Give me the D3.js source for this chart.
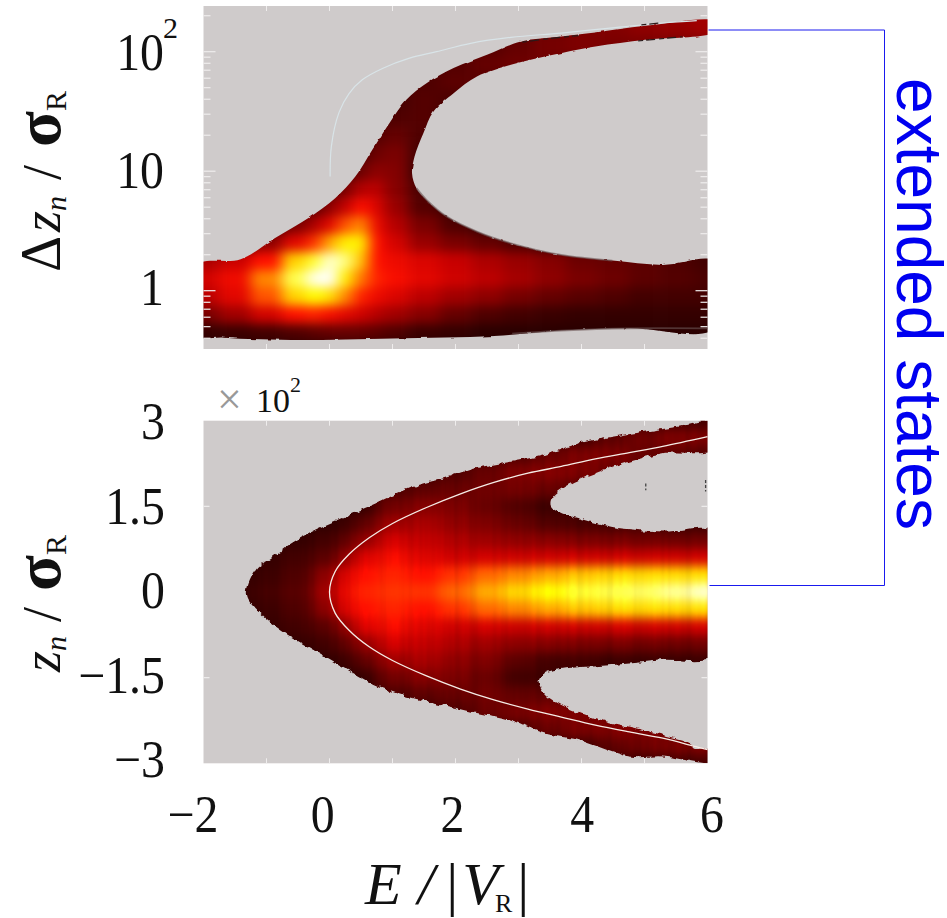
<!DOCTYPE html>
<html><head><meta charset="utf-8">
<script src="https://cdn.jsdelivr.net/npm/d3@7"></script>
<style>html,body{margin:0;background:#fff}svg{display:block}text{font-family:"Liberation Serif",serif;fill:#111}</style>
</head><body><svg id="c" width="947" height="918"></svg>
<script>
const widthColumns=[-2,-1.5,-1,-.5,-.25,0,.25,.5,.75,1,1.5,2,2.5,3,3.5,4,4.5,5,5.5,6];
const widthRows=[2.35,2.2,2.05,1.9,1.75,1.6,1.45,1.3,1.15,1,.85,.7,.55,.4,.25,.1,-.05,-.2,-.35,-.5];
const widthDensity=[
[.1,.1,.1,.1,.1,.1,.1,.1,.1,.1,.1,.1,.12,.15,.2,.24,.27,.3,.33,.36],
[.1,.1,.1,.1,.1,.1,.1,.1,.1,.1,.1,.1,.12,.17,.22,.25,.27,.3,.32,.35],
[.1,.1,.1,.1,.1,.1,.1,.1,.1,.1,.1,.12,.16,.2,.24,.26,.25,.25,.25,.25],
[.1,.1,.1,.1,.1,.1,.1,.1,.1,.1,.12,.16,.2,.22,.22,.2,.18,.18,.18,.18],
[.1,.1,.1,.1,.1,.1,.1,.1,.1,.1,.15,.18,.17,.15,.12,.12,.12,.12,.12,.12],
[.1,.1,.1,.1,.1,.1,.1,.1,.1,.12,.16,.14,.1,.1,.1,.1,.1,.1,.1,.1],
[.1,.1,.1,.1,.1,.1,.1,.08,.1,.15,.16,.1,.1,.1,.1,.1,.1,.1,.1,.1],
[.1,.1,.1,.1,.1,.1,.1,.1,.16,.2,.15,.1,.1,.1,.1,.1,.1,.1,.1,.1],
[.1,.1,.1,.1,.1,.1,.1,.14,.22,.25,.12,.1,.1,.1,.1,.1,.1,.1,.1,.1],
[.1,.1,.1,.1,.08,.08,.12,.22,.3,.27,.1,.1,.1,.1,.1,.1,.1,.1,.1,.1],
[.1,.1,.1,.08,.1,.15,.25,.4,.42,.28,.14,.1,.1,.1,.1,.1,.1,.1,.1,.1],
[.1,.1,.1,.08,.18,.3,.44,.6,.5,.33,.16,.1,.1,.1,.1,.1,.1,.1,.1,.1],
[.1,.1,.1,.25,.38,.52,.68,.74,.55,.4,.25,.15,.1,.1,.1,.1,.1,.1,.1,.1],
[.1,.12,.3,.52,.64,.78,.88,.88,.6,.48,.33,.25,.2,.15,.1,.1,.1,.1,.1,.1],
[.38,.46,.6,.84,.92,.98,.95,.82,.6,.55,.5,.45,.38,.33,.28,.22,.2,.18,.15,.12],
[.48,.56,.74,.93,.99,1,.88,.72,.62,.58,.52,.47,.42,.36,.3,.25,.22,.18,.16,.14],
[.42,.52,.68,.84,.9,.86,.74,.62,.55,.5,.42,.35,.3,.24,.2,.17,.15,.12,.12,.12],
[.25,.35,.48,.6,.62,.58,.52,.47,.4,.35,.28,.2,.15,.12,.1,.08,.08,.08,.08,.08],
[.08,.1,.12,.15,.18,.2,.2,.2,.18,.15,.1,.08,.05,.05,.05,.05,.05,.05,.05,.05],
[.05,.05,.05,.05,.05,.05,.05,.05,.05,.05,.05,.05,.05,.05,.05,.05,.05,.05,.05,.05]];
const widthOutline=[[-2,.207],[-1.41,.263],[-.87,.439],[-.34,.606],[.09,.774],[.41,.955],[.68,1.179],[.95,1.402],[1.22,1.598],[1.54,1.737],[1.97,1.863],[2.5,1.974],[3.04,2.086],[3.68,2.128],[4.22,2.161],[5.02,2.217],[6,2.254],
[6,2.17],[5.02,2.1],[4.22,2.044],[3.42,1.96],[2.88,1.891],[2.34,1.793],[1.97,1.653],[1.65,1.5],[1.49,1.318],[1.35,1.123],[1.31,.983],[1.38,.858],[1.54,.76],[1.86,.62],[2.34,.495],[2.88,.397],[3.68,.299],[4.49,.252],[5.29,.216],[6,.243],
[6,-.315],[4.76,-.315],[3.68,-.334],[2.61,-.379],[1,-.399],[-.61,-.413],[-1.68,-.393],[-2,-.371]];
const widthCurve=[[.01,.955],[.03,1.21],[.15,1.49],[.31,1.65],[.52,1.765],[.84,1.86],[1.27,1.946],[1.7,2],[2.24,2.07],[2.88,2.12],[3.68,2.156],[4.49,2.2],[5.29,2.24],[5.83,2.26]];
const widthHaloLower=[[1.38,.858],[1.54,.76],[1.86,.62],[2.34,.495],[2.88,.397],[3.68,.299],[4.49,.252]];
const widthHaloBottom=[[6,-.315],[4.76,-.315],[3.68,-.334],[2.9,-.36]];
const widthSpecks=[[[3.06,2.08],[3.5,2.11],[3.95,2.135]],[[4.95,2.225],[5.25,2.24]],[[4.9,2.09],[5.6,2.125]]];
const positionColumns=[-2,-1.5,-1,-.5,0,.25,.5,1,1.5,2,2.5,3,3.5,4,4.5,5,5.5,6];
const positionRows=[3,2.7,2.4,2.1,1.8,1.5,1.2,.9,.6,.3,0,-.3,-.6,-.9,-1.2,-1.5,-1.8,-2.1,-2.4,-2.7,-3];
const positionDensity=[
[.05,.05,.05,.05,.05,.05,.05,.05,.05,.05,.05,.05,.05,.08,.1,.1,.12,.12],
[.05,.05,.05,.05,.05,.05,.05,.05,.05,.05,.08,.08,.1,.12,.18,.22,.25,.25],
[.05,.05,.05,.05,.05,.05,.05,.05,.05,.08,.12,.15,.2,.25,.25,.2,.18,.15],
[.05,.05,.05,.05,.05,.05,.05,.05,.1,.15,.2,.25,.27,.25,.2,.18,.15,.15],
[.05,.05,.05,.05,.05,.05,.06,.14,.18,.2,.22,.23,.2,.15,.15,.15,.15,.15],
[.05,.05,.05,.05,.05,.05,.08,.22,.27,.25,.2,.15,.1,.1,.1,.1,.1,.1],
[.05,.05,.05,.05,.07,.1,.18,.33,.36,.3,.25,.2,.15,.13,.12,.12,.1,.1],
[.05,.05,.05,.08,.12,.18,.3,.46,.43,.38,.33,.3,.28,.25,.24,.23,.22,.22],
[.05,.05,.08,.12,.18,.3,.48,.56,.5,.46,.46,.46,.46,.46,.46,.46,.46,.46],
[.05,.06,.1,.15,.3,.48,.58,.62,.6,.64,.7,.74,.78,.82,.84,.85,.85,.85],
[.05,.07,.12,.17,.36,.52,.62,.64,.64,.7,.78,.85,.9,.92,.93,.94,.96,.98],
[.05,.06,.1,.15,.3,.48,.58,.62,.6,.64,.7,.74,.78,.82,.84,.85,.85,.85],
[.05,.05,.08,.12,.18,.3,.48,.56,.5,.46,.46,.46,.46,.46,.46,.46,.46,.46],
[.05,.05,.05,.08,.12,.18,.3,.46,.43,.38,.33,.3,.27,.25,.24,.23,.22,.22],
[.05,.05,.05,.05,.07,.1,.18,.33,.36,.3,.25,.18,.12,.12,.1,.1,.1,.1],
[.05,.05,.05,.05,.05,.05,.08,.22,.27,.25,.2,.12,.1,.1,.1,.1,.1,.1],
[.05,.05,.05,.05,.05,.05,.06,.14,.18,.2,.22,.2,.18,.18,.18,.15,.15,.15],
[.05,.05,.05,.05,.05,.05,.05,.05,.1,.15,.2,.25,.26,.25,.22,.2,.18,.18],
[.05,.05,.05,.05,.05,.05,.05,.05,.05,.08,.12,.15,.2,.25,.26,.25,.22,.2],
[.05,.05,.05,.05,.05,.05,.05,.05,.05,.05,.08,.08,.1,.12,.18,.22,.25,.25],
[.05,.05,.05,.05,.05,.05,.05,.05,.05,.05,.05,.05,.05,.08,.1,.1,.12,.12]];
const positionOutline=[[-1.31,-.05],[-1.17,.385],[-.93,.59],[-.61,.85],[-.23,1.09],[.31,1.35],[.73,1.55],[1.27,1.82],[1.81,1.99],[2.34,2.17],[2.88,2.28],[3.42,2.4],[3.95,2.6],[4.49,2.72],[5.02,2.81],[5.56,2.9],[6,2.98],
[6,2.5],[5.29,2.43],[4.76,2.28],[4.22,2.08],[3.79,1.87],[3.55,1.67],[3.51,1.52],[3.63,1.41],[3.95,1.29],[4.49,1.14],[5.29,1.06],[6,1.04],
[6,-1.1],[5.29,-1.19],[4.49,-1.28],[3.68,-1.35],[3.42,-1.42],[3.32,-1.57],[3.39,-1.75],[3.63,-1.95],[4.22,-2.21],[4.76,-2.36],[5.29,-2.5],[5.72,-2.65],[5.78,-2.74],[6,-2.74],
[6,-2.97],[5.29,-2.88],[4.76,-2.88],[3.95,-2.59],[3.42,-2.48],[2.88,-2.24],[2.34,-2.12],[1.81,-1.98],[1.22,-1.83],[.73,-1.63],[.2,-1.31],[-.34,-.96],[-.77,-.67],[-1.09,-.37]];
const positionCurve=[[6,2.72],[5.29,2.55],[4.76,2.44],[4.22,2.33],[3.68,2.2],[3.15,2.08],[2.61,1.92],[2.08,1.72],[1.54,1.48],[1,1.2],[.63,.95],[.31,.66],[.09,.36],[0,0],[.09,-.37],[.31,-.67],[.63,-.96],[1,-1.2],[1.54,-1.47],[2.08,-1.7],[2.61,-1.89],[3.15,-2.05],[3.68,-2.19],[4.22,-2.33],[4.76,-2.45],[5.29,-2.56],[5.82,-2.71],[6,-2.76]];
const positionSpecks=[[[5.97,1.96],[5.97,1.76]],[[5.02,1.9],[5.02,1.78]]];
const xTickLabels=[-2,0,2,4,6];
const positionTickLabels=[3,1.5,0,-1.5,-3];

const svg=d3.select("#c");
const x=d3.scaleLinear().domain([-2,6]).range([203.5,707.5]);
const yW=d3.scaleLinear().domain([0,2]).range([290.7,51.7]);
const yP=d3.scaleLinear().domain([3,-3]).range([420.7,763.3]);
const color=d3.scaleLinear().domain([0,.1,.25,.45,.6,.75,.9,1]).range(["#1a0000","#3a0000","#7a0000","#c80000","#ff1000","#ff9000","#ffff00","#ffffff"]);
const GRAY="#cfcbcb", TICK="#efeded";
const defs=svg.append("defs");
const full=f=>f.attr("filterUnits","userSpaceOnUse").attr("x",0).attr("y",0).attr("width",947).attr("height",918).attr("color-interpolation-filters","sRGB");
full(defs.append("filter").attr("id","softW")).append("feGaussianBlur").attr("stdDeviation","7 5.5");
// the position panel also has the fine vertical streaks of the picture
const fs=full(defs.append("filter").attr("id","softP"));
fs.append("feGaussianBlur").attr("stdDeviation","7 5.5").attr("result","b");
fs.append("feTurbulence").attr("type","fractalNoise").attr("baseFrequency","0.13 0.002").attr("numOctaves",2).attr("seed",7);
fs.append("feColorMatrix").attr("values","1 0 0 0 0  1 0 0 0 0  1 0 0 0 0  0 0 0 0 1").attr("result","n");
fs.append("feComposite").attr("in","b").attr("in2","n").attr("operator","arithmetic").attr("k1",.2).attr("k2",.92).attr("k3",0).attr("k4",0);
function rough(id,scale,freq){
  const f=full(defs.append("filter").attr("id",id));
  f.append("feTurbulence").attr("type","fractalNoise").attr("baseFrequency",freq).attr("numOctaves",2).attr("seed",4).attr("result","n");
  f.append("feDisplacementMap").attr("in","SourceGraphic").attr("in2","n").attr("scale",scale).attr("xChannelSelector","R").attr("yChannelSelector","G");
}
rough("roughW",2.5,.12); rough("roughP",6,.14);

function panel(id,cols,y,rows,density,outline,top,bottom,roughId,softId){
  const edges=a=>a.map((v,i)=>[i?(a[i-1]+v)/2:v-(a[1]-a[0])/2, i<a.length-1?(a[i+1]+v)/2:v+(a[i]-a[i-1])/2]);
  const ce=edges(cols), re=edges(rows);
  svg.append("rect").attr("x",x(-2)).attr("y",top).attr("width",x(6)-x(-2)).attr("height",bottom-top).attr("fill",GRAY);
  // outline points on the panel's side edges run past them so the box cuts them straight
  const bleed=d=>d[0]>=6?x(6)+8:d[0]<=-2?x(-2)-8:x(d[0]);
  const outlinePath=d3.line().x(bleed).y(d=>y(d[1])).curve(d3.curveCatmullRomClosed.alpha(.5))(outline);
  defs.append("mask").attr("id",id).attr("maskUnits","userSpaceOnUse").attr("x",0).attr("y",0).attr("width",947).attr("height",918)
    .append("path").attr("d",outlinePath).attr("fill","#fff").attr("filter",`url(#${roughId})`);
  defs.append("clipPath").attr("id",id+"Box").append("rect").attr("x",x(-2)).attr("y",top).attr("width",x(6)-x(-2)).attr("height",bottom-top);
  const g=svg.append("g").attr("clip-path",`url(#${id}Box)`).append("g").attr("mask",`url(#${id})`).append("g").attr("filter",`url(#${softId})`);
  density.forEach((r,i)=>r.forEach((v,j)=>{
    const pad=40;
    const x0=x(ce[j][0])-(j==0?pad:0), x1=x(ce[j][1])+(j==r.length-1?pad:0);
    const y0=y(re[i][0])-(i==0?pad:0), y1=y(re[i][1])+(i==density.length-1?pad:0);
    g.append("rect").attr("x",x0).attr("y",y0).attr("width",x1-x0+.5).attr("height",y1-y0+.5).attr("fill",color(v));
  }));
  return d3.line().x(d=>x(d[0])).y(d=>y(d[1]));
}
const lineW=panel("clipW",widthColumns,yW,widthRows,widthDensity,widthOutline,6,349,"roughW","softW");
const lineP=panel("clipP",positionColumns,yP,positionRows,positionDensity,positionOutline,420.7,763.3,"roughP","softP");
const smooth=d3.curveCatmullRom;
[widthHaloLower,widthHaloBottom].forEach(h=>svg.append("path").attr("d",lineW.curve(smooth)(h)).attr("fill","none").attr("stroke","#6d5555").attr("stroke-width",1.8).attr("opacity",.6));
svg.append("path").attr("d",lineW.curve(smooth)(widthCurve)).attr("fill","none").attr("stroke","#d9e4e8").attr("stroke-width",1.2);
widthSpecks.forEach(s=>svg.append("path").attr("d",lineW.curve(smooth)(s)).attr("fill","none").attr("stroke","#2a1a1a").attr("stroke-width",1.2).attr("stroke-dasharray","5 3 9 4"));
svg.append("path").attr("d",lineP.curve(smooth)(positionCurve)).attr("fill","none").attr("stroke","#f6ece6").attr("stroke-width",1.3);
positionSpecks.forEach(s=>svg.append("path").attr("d",lineP.curve(d3.curveLinear)(s)).attr("fill","none").attr("stroke","#444").attr("stroke-width",1.3).attr("stroke-dasharray","3 2"));

// ticks
function ticksX(vals,y0,y1,len){vals.forEach(v=>{
  svg.append("line").attr("x1",x(v)).attr("x2",x(v)).attr("y1",y0).attr("y2",y0+len).attr("stroke",TICK);
  svg.append("line").attr("x1",x(v)).attr("x2",x(v)).attr("y1",y1).attr("y2",y1-len).attr("stroke",TICK);});}
ticksX(d3.range(-1,6),6,349,5);
ticksX(d3.range(-1,6),420.7,763.3,5);
function ticksY(y,v,len){[[x(-2),1],[x(6),-1]].forEach(([a,s])=>svg.append("line").attr("x1",a).attr("x2",a+s*len).attr("y1",y(v)).attr("y2",y(v)).attr("stroke",TICK).attr("stroke-width",1.2));}
[-1,0,1,2].forEach(d=>{ [1,2,3,4,5,6,7,8,9].forEach(m=>{const v=d+Math.log10(m); if(v>2.38||v<-.48)return; ticksY(yW,v,m==1?12:7);});});
[-1.5,1.5].forEach(v=>ticksY(yP,v,6));

// tick labels: slightly taller than wide, as in the picture
function label(t,px,py,anchor,size=52){
  return svg.append("text").attr("transform",`translate(${px},${py}) scale(.92,1)`).attr("text-anchor",anchor).attr("font-size",size).text(t);
}
const lblX=d3.scaleLinear().domain([-2,6]).range([193,712]);
const fmt=v=>String(v).replace("-","\u2212");
xTickLabels.forEach(v=>label(fmt(v),lblX(v),832,"middle"));
const lblP=d3.scaleLinear().domain([3,-3]).range([422,760]);
positionTickLabels.forEach(v=>label(fmt(v),165,lblP(v)+17,"end"));
const lblW=d3.scaleLinear().domain([0,2]).range([288,53]);
[["1",0],["10",1],["10",2]].forEach(([t,v])=>label(t,164,lblW(v)+17,"end"));
svg.append("text").attr("x",163).attr("y",38).attr("font-size",30).text("2");
svg.append("text").attr("x",217).attr("y",414).attr("font-size",44).style("fill","#999").text("\u00d7");
svg.append("text").attr("x",256).attr("y",412).attr("font-size",34).text("10");
svg.append("text").attr("x",290).attr("y",392).attr("font-size",22).text("2");

// axis titles
function rotated(cx,cy,parts){
  const t=svg.append("text").attr("transform",`translate(${cx},${cy}) rotate(-90)`);
  parts.forEach(p=>{const s=t.append("tspan").text(p.t).attr("font-size",p.s);
    if(p.i)s.attr("font-style","italic"); if(p.dy)s.attr("dy",p.dy); if(p.f)s.style("font-family",p.f); if(p.b)s.attr("font-weight","bold"); if(p.dx)s.attr("dx",p.dx);});
  return t;
}
const sigma='"Liberation Serif",serif';
rotated(60,272,[{t:"\u0394",s:56},{t:"z",s:54,i:1,dx:4},{t:"n",s:30,i:1,dy:6},{t:"/",s:54,dy:-6,dx:16},{t:"\u03c3",s:66,dx:18,f:sigma,b:1},{t:"R",s:30,dy:6,dx:0}]);
rotated(60,672,[{t:"z",s:54,i:1},{t:"n",s:30,i:1,dy:6},{t:"/",s:54,dy:-6,dx:14},{t:"\u03c3",s:66,dx:16,f:sigma,b:1},{t:"R",s:30,dy:6,dx:0}]);
const xt=svg.append("text").attr("x",365).attr("y",904).attr("font-size",60);
xt.append("tspan").attr("font-style","italic").text("E");
xt.append("tspan").attr("dx",16).attr("font-style","italic").text("/");
xt.append("tspan").attr("dx",12).text("|");
xt.append("tspan").attr("dx",4).attr("font-style","italic").text("V");
xt.append("tspan").attr("font-size",26).attr("dy",8).attr("dx",-4).text("R");
xt.append("tspan").attr("dy",-8).attr("dx",5).text("|");

// annotation
svg.append("path").attr("d",`M${x(6)+1},30H884.5V585.5H${x(6)+2}`).attr("fill","none").attr("stroke","#1a1aee").attr("stroke-width",1);
svg.append("text").attr("transform","translate(897,304) rotate(90)").attr("text-anchor","middle").attr("font-size",64).style("font-family",'"Liberation Sans",sans-serif').style("fill","#0000f0").text("extended states");
</script></body></html>
